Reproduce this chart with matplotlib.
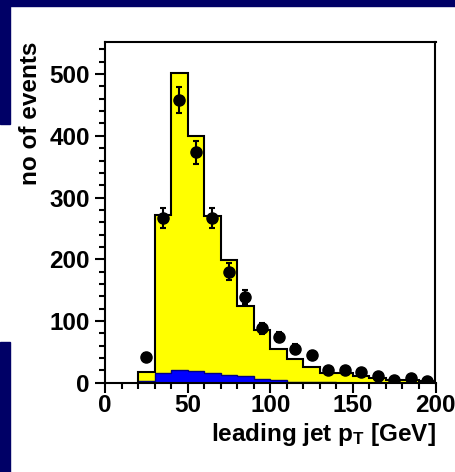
#!/usr/bin/env python
# leading jet pT: stacked MC histogram (yellow + blue) with data points

import numpy as np
import matplotlib
matplotlib.use('Agg')
import matplotlib.pyplot as plt
from matplotlib.patches import Rectangle
from matplotlib.ticker import MultipleLocator

# bin edges (GeV) and contents
bin_edges = [20, 30, 40, 50, 60, 70, 80, 90, 100, 110, 120, 130, 140, 150, 160, 170, 180, 190, 200]
total_mc = [17, 272, 501, 399, 270, 199, 125, 86, 54, 38, 26, 15, 15, 11, 7, 5, 4, 2]
blue_mc = [3, 15, 20, 19, 15, 13, 11, 6, 4, 1, 1, 0.5, 0, 0, 0, 0, 0, 0]
data_x = [25, 35, 45, 55, 65, 75, 85, 95, 105, 115, 125, 135, 145, 155, 165, 175, 185, 195]
data_y = [41, 267, 458, 373, 267, 180, 139, 88, 74, 55, 45, 21, 21, 18, 11, 4, 7, 3]

plt.rcParams['font.family'] = ['Liberation Sans', 'DejaVu Sans']
plt.rcParams['font.weight'] = 'bold'
plt.rcParams['mathtext.fontset'] = 'custom'
plt.rcParams['mathtext.rm'] = 'Liberation Sans:bold'
plt.rcParams['mathtext.bf'] = 'Liberation Sans:bold'
plt.rcParams['mathtext.it'] = 'Liberation Sans:bold'

W, H = 456, 472
fig = plt.figure(figsize=(W / 100, H / 100), dpi=100)
fig.patch.set_facecolor('white')

# navy border pieces
navy = '#000066'
fig.patches.append(Rectangle((0, 1 - 6 / H), 1, 6 / H, transform=fig.transFigure, color=navy, zorder=0))
fig.patches.append(Rectangle((0, 1 - 124 / H), 10 / W, 124 / H, transform=fig.transFigure, color=navy, zorder=0))
fig.patches.append(Rectangle((0, 0), 10 / W, 130 / H, transform=fig.transFigure, color=navy, zorder=0))

left, right = 105 / W, 435.5 / W
bottom, top = 1 - 382.7 / H, 1 - 42 / H
ax = fig.add_axes([left, bottom, right - left, top - bottom])

edges = np.array(bin_edges)
tot = np.array(total_mc)
blu = np.array(blue_mc)

ax.stairs(tot, edges, fill=True, color='#ffff00', zorder=1)
ax.stairs(tot, edges, fill=False, color='black', linewidth=1.5, baseline=0, zorder=3)
ax.stairs(blu, edges, fill=True, color='#0000ff', zorder=2)
ax.stairs(blu, edges, fill=False, color='#000080', linewidth=1.0, zorder=2)

yerr = np.sqrt(np.array(data_y))
ax.errorbar(data_x, data_y, yerr=yerr, fmt='o', color='black', markersize=8,
            elinewidth=1.5, capsize=2.5, capthick=1.5, zorder=4)

ax.set_xlim(0, 200)
ax.set_ylim(0, 552)
ax.xaxis.set_major_locator(MultipleLocator(50))
ax.xaxis.set_minor_locator(MultipleLocator(10))
ax.yaxis.set_major_locator(MultipleLocator(100))
ax.yaxis.set_minor_locator(MultipleLocator(20))
ax.tick_params(which='both', direction='out', width=1.5, top=False, right=False)
ax.tick_params(which='major', length=7, labelsize=17.5)
ax.tick_params(axis='y', which='major', pad=4)
ax.tick_params(axis='x', which='major', pad=1)
ax.tick_params(which='minor', length=4)
for lbl in ax.get_xticklabels() + ax.get_yticklabels():
    lbl.set_fontweight('bold')
for s in ax.spines.values():
    s.set_linewidth(1.5)

ax.set_xlabel(r'leading jet p$_\mathbf{T}$ [GeV]', fontsize=17.5, fontweight='bold', loc='right', labelpad=3)
ax.set_ylabel('no of events', fontsize=17.5, fontweight='bold', loc='top', labelpad=5)

fig.savefig('out.png', dpi=100)
